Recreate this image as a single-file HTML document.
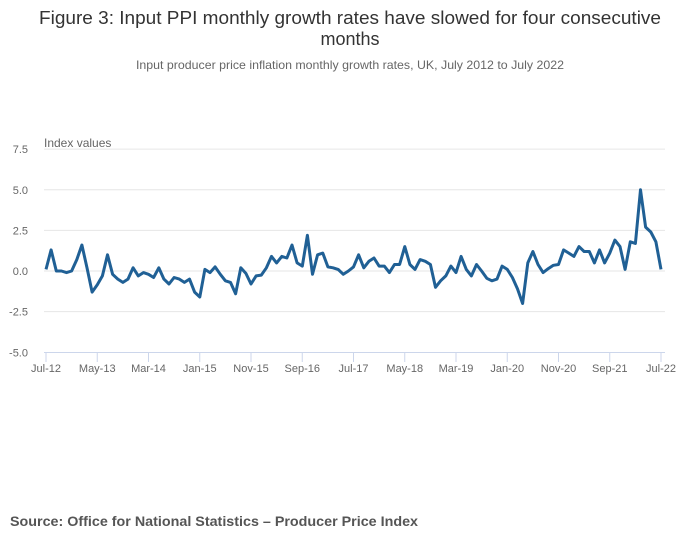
<!DOCTYPE html>
<html><head><meta charset="utf-8"><style>
body{margin:0;background:#fff;}
svg{display:block;font-family:"Liberation Sans",sans-serif;}
</style></head><body>
<svg id="chart" width="700" height="549" viewBox="0 0 700 549">
<rect width="700" height="549" fill="#fff"/>
<text x="350" y="24" text-anchor="middle" font-size="18" fill="#333" textLength="622" lengthAdjust="spacingAndGlyphs">Figure 3: Input PPI monthly growth rates have slowed for four consecutive</text>
<text x="350" y="45" text-anchor="middle" font-size="18" fill="#333">months</text>
<text x="350" y="69" text-anchor="middle" font-size="12" fill="#666" textLength="428" lengthAdjust="spacingAndGlyphs">Input producer price inflation monthly growth rates, UK, July 2012 to July 2022</text>
<text x="44" y="147" font-size="12" fill="#666">Index values</text>
<g id="grid"></g><g id="xaxis"></g>
<path id="line" fill="none" stroke="#206095" stroke-width="3" stroke-linejoin="round"/>
<text x="10" y="526" font-size="14" font-weight="bold" fill="#555" textLength="408" lengthAdjust="spacingAndGlyphs">Source: Office for National Statistics – Producer Price Index</text>
</svg>
<script>
const values=[0.1,1.3,0.0,0.0,-0.1,0.0,0.7,1.6,0.2,-1.3,-0.85,-0.3,1.0,-0.2,-0.5,-0.7,-0.5,0.2,-0.3,-0.1,-0.2,-0.4,0.2,-0.5,-0.8,-0.4,-0.5,-0.7,-0.5,-1.3,-1.6,0.1,-0.1,0.25,-0.2,-0.6,-0.7,-1.4,0.2,-0.15,-0.8,-0.3,-0.25,0.2,0.9,0.5,0.9,0.8,1.6,0.5,0.3,2.2,-0.2,1.0,1.1,0.25,0.2,0.1,-0.2,0.0,0.25,1.0,0.2,0.6,0.8,0.3,0.3,-0.1,0.4,0.4,1.5,0.4,0.1,0.7,0.6,0.4,-1.0,-0.6,-0.3,0.3,-0.1,0.9,0.1,-0.3,0.4,0.0,-0.45,-0.6,-0.5,0.3,0.1,-0.4,-1.1,-2.0,0.5,1.2,0.4,-0.1,0.15,0.35,0.4,1.3,1.1,0.9,1.5,1.2,1.2,0.5,1.3,0.5,1.1,1.9,1.5,0.1,1.8,1.7,5.0,2.7,2.4,1.8,0.1];
const xTickLabels=["Jul-12","May-13","Mar-14","Jan-15","Nov-15","Sep-16","Jul-17","May-18","Mar-19","Jan-20","Nov-20","Sep-21","Jul-22"];
const yTicks=[7.5,5.0,2.5,0.0,-2.5,-5.0];
const NS="http://www.w3.org/2000/svg";
const x=i=>46+i*(661-46)/120;
const y=v=>271-v*16.25;
const grid=document.getElementById('grid'),xa=document.getElementById('xaxis');
function mk(p,tag,at){const e=document.createElementNS(NS,tag);for(const k in at)e.setAttribute(k,at[k]);p.appendChild(e);return e;}
yTicks.forEach(t=>{
 if(t>-5){const l=mk(grid,'line',{x1:44,x2:665,y1:y(t),y2:y(t),stroke:'#e6e6e6','stroke-width':1});
 
 }
 const tx=mk(grid,'text',{x:28,y:y(t)+4,'text-anchor':'end','font-size':11,fill:'#666'});
 
 
 tx.textContent=t.toFixed(1);
});
const ax=mk(xa,'line',{x1:44,x2:665,y1:352.5,y2:352.5,stroke:'#ccd6eb','stroke-width':1});


xTickLabels.forEach((s,k)=>{
 const xx=x(k*10);
 const tk=mk(xa,'line',{x1:xx,x2:xx,y1:352,y2:362,stroke:'#ccd6eb','stroke-width':1});
 
 
 const t=mk(xa,'text',{x:xx,y:372,'text-anchor':'middle','font-size':11,fill:'#666'});
 
 
 t.textContent=s;
});
document.getElementById('line').setAttribute('d',values.map((v,i)=>(i?'L':'M')+x(i).toFixed(1)+','+y(v).toFixed(1)).join(''));
</script>
</body></html>
